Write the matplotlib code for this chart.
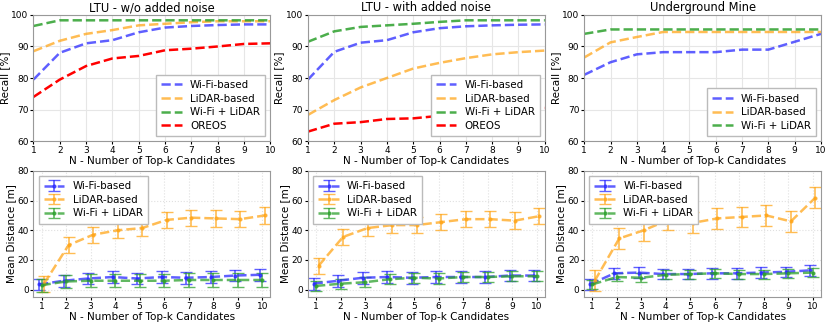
import matplotlib
matplotlib.use("Agg")
import matplotlib.pyplot as plt
import numpy as np

k = np.arange(1, 11)

# recall [%] curves, top row
titles = ["LTU - w/o added noise", "LTU - with added noise", "Underground Mine"]
wifi_recall = [
    [79.5, 88, 91, 92, 94.5, 96, 96.5, 96.8, 97, 97],
    [79.5, 88.3, 91.2, 92, 94.5, 95.8, 96.4, 96.7, 96.9, 97],
    [81, 85, 87.5, 88.2, 88.2, 88.2, 89, 89, 91.5, 94],
]
lidar_recall = [
    [88.5, 91.8, 94, 95.2, 96.7, 97.2, 97.7, 98, 98, 98],
    [68.3, 73, 77, 80, 83, 84.8, 86.3, 87.5, 88.2, 88.7],
    [86.5, 91.3, 93, 94.6, 94.6, 94.6, 94.6, 94.6, 94.6, 94.6],
]
fusion_recall = [
    [96.5, 98.3, 98.3, 98.3, 98.3, 98.3, 98.3, 98.3, 98.3, 98.3],
    [91.5, 94.8, 96.2, 96.7, 97.2, 97.8, 98.3, 98.3, 98.3, 98.3],
    [94, 95.4, 95.4, 95.4, 95.4, 95.4, 95.4, 95.4, 95.4, 95.4],
]
oreos_recall = [
    [74, 79.5, 83.8, 86.2, 87, 88.8, 89.3, 90, 90.8, 91],
    [63, 65.5, 66, 67, 67.2, 68, 68.8, 69.3, 69.8, 70.5],
    None,
]

# mean distance [m] with std, bottom row
wifi_dist = [
    [3.5, 6, 7.5, 8.5, 7.5, 8.5, 8, 8.5, 9.5, 10],
    [4, 6, 8, 8.5, 8, 8.5, 8.5, 8.5, 9.5, 9.5],
    [3.5, 11, 11.5, 10.5, 10.5, 11, 11, 11.5, 12, 13],
]
wifi_err = [4, 4, 3.5]
lidar_dist = [
    [4, 30, 37, 40, 41.5, 47, 48.5, 48, 47.5, 50],
    [16, 35.5, 41.5, 43.5, 43.5, 45.5, 47.5, 47.5, 46.5, 49.5],
    [6, 34.5, 40, 47, 45, 48, 49, 50, 46, 62],
]
lidar_err = [5.5, 5.5, 7]
fusion_dist = [
    [3, 5.5, 6, 6, 6, 6, 6.5, 6.5, 6.5, 6.5],
    [2.5, 4, 5, 7, 8, 7.5, 8.5, 8.5, 9, 9],
    [3.5, 8.5, 8, 10, 10.5, 11, 10.5, 10.5, 11, 11.5],
]
fusion_err = [4.5, 3.5, 3]

c_wifi = "#2a2aff"
c_lidar = "#ffa61a"
c_fus = "#2ca02c"
c_oreos = "#ff0000"

plt.rcParams["font.family"] = "DejaVu Sans"
fig = plt.figure(figsize=(8.31, 3.25), dpi=100)

lefts = [0.0403, 0.3706, 0.703]
w = 0.285
lab_fs = 7.5
tick_fs = 6.5

for i in range(3):
    ax = fig.add_axes([lefts[i], 0.566, w, 0.388])
    ax.plot(k, wifi_recall[i], "--", color=c_wifi, alpha=0.75, lw=1.8, label="Wi-Fi-based")
    ax.plot(k, lidar_recall[i], "--", color=c_lidar, alpha=0.75, lw=1.8, label="LiDAR-based")
    ax.plot(k, fusion_recall[i], "--", color=c_fus, alpha=0.85, lw=1.8, label="Wi-Fi + LiDAR")
    if oreos_recall[i] is not None:
        ax.plot(k, oreos_recall[i], "--", color=c_oreos, lw=1.8, label="OREOS")
    ax.set_xlim(1, 10)
    ax.set_ylim(60, 100)
    ax.set_xticks(k)
    ax.set_yticks([60, 70, 80, 90, 100])
    ax.grid(True, color="#e6e6e6", lw=0.8)
    ax.set_title(titles[i], fontsize=8.3, pad=2.5)
    ax.set_xlabel("N - Number of Top-k Candidates", fontsize=lab_fs, labelpad=0.5)
    ax.set_ylabel("Recall [%]", fontsize=lab_fs, labelpad=1)
    ax.tick_params(labelsize=tick_fs, length=2, pad=1.5)
    for s in ax.spines.values():
        s.set_color("#999999")
    ax.legend(loc="lower right", fontsize=7.4, handlelength=2.0, borderpad=0.5,
              labelspacing=0.35, fancybox=False, framealpha=1, edgecolor="#bbbbbb")

    bx = fig.add_axes([lefts[i], 0.086, w, 0.388])
    bx.errorbar(k - 0.1, wifi_dist[i], yerr=wifi_err[i], fmt="--", marker=".", ms=4,
                color=c_wifi, alpha=0.75, lw=1.8, elinewidth=1.2, capsize=4, label="Wi-Fi-based")
    bx.errorbar(k + 0.1, lidar_dist[i], yerr=lidar_err[i], fmt="--", marker=".", ms=4,
                color=c_lidar, alpha=0.75, lw=1.8, elinewidth=1.2, capsize=4, label="LiDAR-based")
    bx.errorbar(k, fusion_dist[i], yerr=fusion_err[i], fmt="--", marker=".", ms=4,
                color=c_fus, alpha=0.75, lw=1.8, elinewidth=1.2, capsize=4, label="Wi-Fi + LiDAR")
    bx.set_xlim(0.67, 10.33)
    bx.set_ylim(-5, 80)
    bx.set_xticks(k)
    bx.set_yticks([0, 20, 40, 60, 80])
    bx.grid(True, color="#e0e0e0", lw=0.8, ls=":")
    bx.set_xlabel("N - Number of Top-k Candidates", fontsize=lab_fs, labelpad=0.5)
    bx.set_ylabel("Mean Distance [m]", fontsize=lab_fs, labelpad=1)
    bx.tick_params(labelsize=tick_fs, length=2, pad=1.5)
    for s in bx.spines.values():
        s.set_color("#999999")
    bx.legend(loc="upper left", fontsize=7.4, handlelength=2.0, borderpad=0.5,
              labelspacing=0.35, fancybox=False, framealpha=1, edgecolor="#bbbbbb")

fig.savefig("out.png", dpi=100)
